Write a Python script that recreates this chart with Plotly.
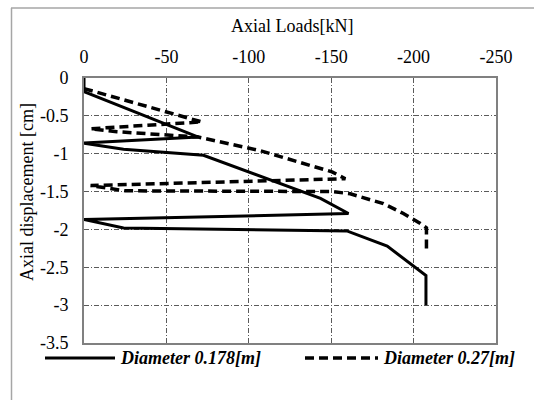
import plotly.graph_objects as go

# Pile head load-displacement curves (cyclic loading) for two pile diameters
load_d0178 = [0, 0, -69.4, 0, -24, -72.5, -143.5, -160.5, 0, -24, -159.5, -184, -207.5, -207.5]
disp_d0178 = [0, -0.18, -0.78, -0.86, -0.94, -1.02, -1.59, -1.79, -1.87, -1.98, -2.02, -2.22, -2.61, -3.0]

load_d027 = [0, -71.5, -4, -20, -69.4, -107, -150.5, -158.6, -4, -25, -151.3,
             -161.6, -181.7, -193.8, -204.1, -207.8, -207.8]
disp_d027 = [-0.14, -0.58, -0.67, -0.71, -0.78, -0.96, -1.24, -1.33, -1.42, -1.49, -1.50,
             -1.53, -1.66, -1.79, -1.92, -1.98, -2.28]

x_ticks = [0, -50, -100, -150, -200, -250]
x_tick_text = ["0", "-50", "-100", "-150", "-200", "-250"]
y_ticks = [0, -0.5, -1, -1.5, -2, -2.5, -3, -3.5]
y_tick_text = ["0", "-0.5", "-1", "-1.5", "-2", "-2.5", "-3", "-3.5"]

series_names = ["Diameter 0.178[m]", "Diameter 0.27[m]"]

W, H = 534, 400
ML, MR, MT, MB = 84, 38, 78, 57
PW, PH = W - ML - MR, H - MT - MB

FONT = "Liberation Serif"
DASH = "9px,5px"


def px_x(p):
    return (p - ML) / PW


def px_y(p):
    return (H - MB - p) / PH


fig = go.Figure()
fig.add_trace(go.Scatter(x=load_d0178, y=disp_d0178, mode="lines", name=series_names[0],
                         line=dict(color="black", width=3), showlegend=False))
fig.add_trace(go.Scatter(x=load_d027, y=disp_d027, mode="lines", name=series_names[1],
                         line=dict(color="black", width=3.5, dash=DASH), showlegend=False))

axis_common = dict(
    showline=True, linecolor="#808080", linewidth=2, mirror=True,
    showgrid=True, gridcolor="#5a5a5a", gridwidth=1, griddash="5px,2px,1px,2px",
    zeroline=False, ticks="", tickfont=dict(family=FONT, size=18, color="black"),
)

fig.update_xaxes(range=[0, -250], side="top", tickmode="array",
                 tickvals=x_ticks, ticktext=x_tick_text, ticklabelstandoff=6, **axis_common)
fig.update_yaxes(range=[-3.5, 0], tickmode="array",
                 tickvals=y_ticks, ticktext=y_tick_text, ticklabelstandoff=10, **axis_common)

annotations = [
    dict(text="Axial Loads[kN]", x=px_x(292), y=px_y(26), xref="paper", yref="paper",
         xanchor="center", yanchor="middle", showarrow=False,
         font=dict(family=FONT, size=18, color="black")),
    dict(text="Axial displacement [cm]", x=px_x(27), y=px_y(192), xref="paper", yref="paper",
         xanchor="center", yanchor="middle", showarrow=False, textangle=-90,
         font=dict(family=FONT, size=18, color="black")),
]

# Legend drawn below the plot area: sample line + bold italic label
legend_y = 358
legend_items = [(45, 115, 118, "solid", 3), (305, 378, 381, DASH, 3.5)]
shapes = []
for (x0, x1, tx, dash, w), name in zip(legend_items, series_names):
    shapes.append(dict(type="line", xref="paper", yref="paper",
                       x0=px_x(x0), x1=px_x(x1), y0=px_y(legend_y), y1=px_y(legend_y),
                       line=dict(color="black", width=w, dash=dash)))
    annotations.append(dict(text=f"<b><i>{name}</i></b>", x=px_x(tx), y=px_y(legend_y),
                            xref="paper", yref="paper", xanchor="left", yanchor="middle",
                            showarrow=False, font=dict(family=FONT, size=18, color="black")))

# Outer chart frame
shapes.append(dict(type="line", xref="paper", yref="paper", x0=px_x(11.5), x1=px_x(11.5),
                   y0=px_y(8), y1=px_y(400), line=dict(color="#a6a6a6", width=1.5)))
shapes.append(dict(type="line", xref="paper", yref="paper", x0=px_x(11), x1=px_x(534),
                   y0=px_y(8), y1=px_y(8), line=dict(color="#a6a6a6", width=1.5)))

fig.update_layout(
    width=W, height=H, margin=dict(l=ML, r=MR, t=MT, b=MB),
    paper_bgcolor="white", plot_bgcolor="white",
    annotations=annotations, shapes=shapes, showlegend=False,
)

fig.write_html("out.html")
